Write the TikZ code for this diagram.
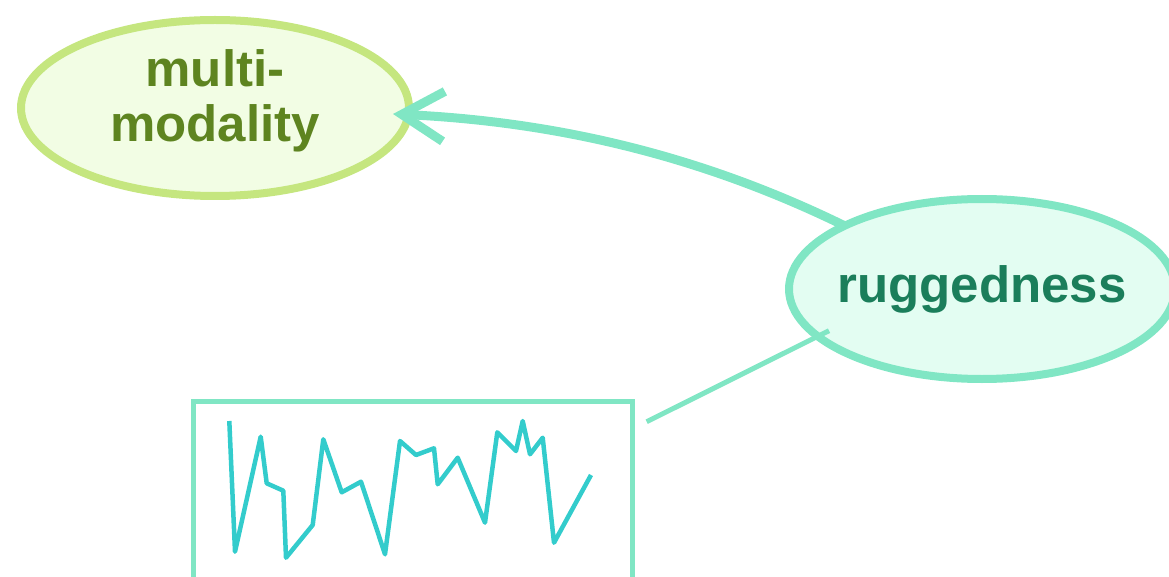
\documentclass[tikz,border=0pt]{standalone}
\usepackage{fontspec}
\setmainfont{Liberation Sans}
\usetikzlibrary{arrows.meta,shapes.geometric}
\definecolor{rugline}{HTML}{80E6C4}
\definecolor{rugfill}{HTML}{E3FDF2}
\definecolor{rugtext}{HTML}{1B7E5B}
\definecolor{mmline}{HTML}{C5E67F}
\definecolor{mmfill}{HTML}{F2FDE4}
\definecolor{mmtext}{HTML}{5E8420}
\definecolor{spark}{HTML}{33CCCC}
\tikzset{
  bubble/.style={ellipse, line width=8pt, inner sep=0pt},
  bubbletext/.style={font=\fontsize{51}{55}\selectfont\bfseries, align=center, inner sep=0pt},
  conn/.style={rugline, line width=5pt},
}
\begin{document}
\begin{tikzpicture}[x=1pt,y=-1pt]
\useasboundingbox (0,0) rectangle (1169,577);
\clip (0,0) rectangle (1169,577);
% nodes
\node[bubble, draw=mmline, fill=mmfill, minimum width=388pt, minimum height=176pt] (mm) at (215,108) {};
\node[bubbletext, text=mmtext] (mmlabel) at (215,101) {multi-\\modality};
\node[bubble, draw=rugline, fill=rugfill, minimum width=386pt, minimum height=180pt] (rug) at (982,289) {};
\node[bubbletext, text=rugtext] (ruglabel) at (982,289) {ruggedness};
\node[draw=rugline, line width=5pt, minimum width=439.5pt, minimum height=190pt, anchor=north west, inner sep=0pt] (box) at (190.5,398.5) {};
% sparkline
\draw[spark, line width=4.5pt, line join=round] (229.3,421) -- (235,551.7) -- (260.7,436.7) -- (266.7,483.3) -- (283.3,490.7) -- (286,557.7) -- (312.7,525) -- (323.3,439.3) -- (341.7,492.3) -- (361,481.7) -- (385,554.3) -- (400,441) -- (416,455) -- (434,448.3) -- (437.7,484.3) -- (457.7,457.7) -- (485,522.7) -- (497.3,432.3) -- (516,451) -- (522.7,421) -- (530,454.3) -- (542.7,437.7) -- (554,542.7) -- (591,475);
% connectors
\coordinate (rugstart) at (845,226);
\coordinate (mmtip) at (393,114);
\draw[rugline, line width=9pt, -{Straight Barb[length=42pt,width=50pt,line width=9pt]}] (rugstart) .. controls (690,150) and (542,121) .. (mmtip);
\coordinate (boxend) at (646.7,421.7);
\coordinate (rugend) at (829,330.7);
\draw[conn] (boxend) -- (rugend);
\end{tikzpicture}
\end{document}
